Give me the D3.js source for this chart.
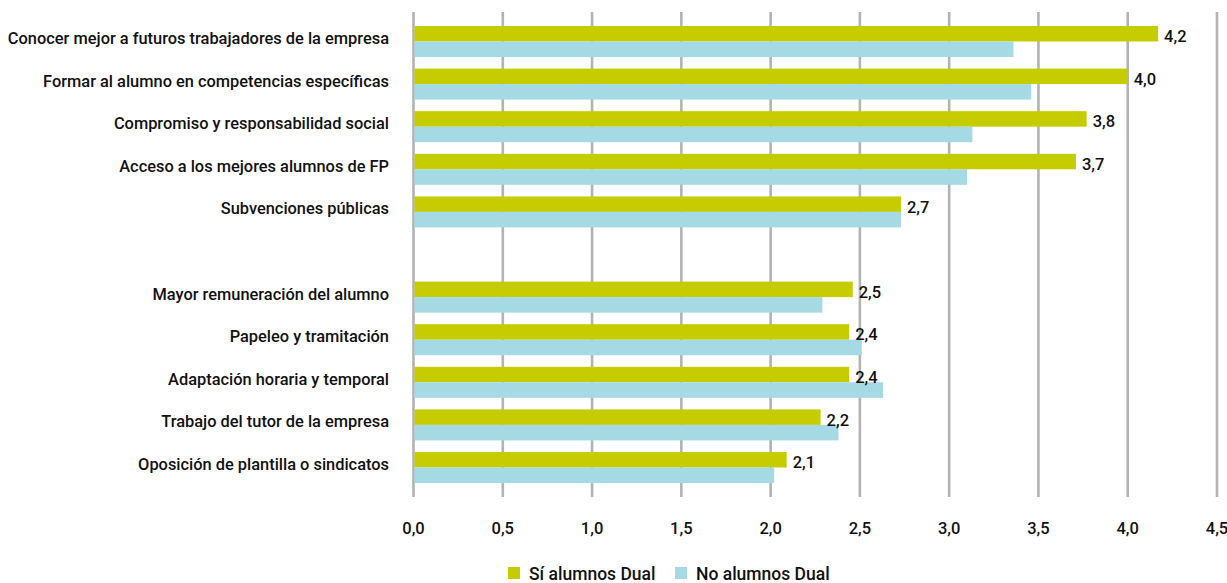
<!DOCTYPE html>
<html>
<head>
<meta charset="utf-8">
<script src="https://cdn.jsdelivr.net/npm/d3@7"></script>
<style>
  html, body { margin: 0; padding: 0; background: #fff; }
  svg { display: block; }
  text { font-family: Roboto, "Open Sans", sans-serif; fill: #111; }
</style>
</head>
<body>
<svg id="chart" width="1227" height="583"></svg>
<script>
// ---- data ----
const categories = [
  "Conocer mejor a futuros trabajadores de la empresa",
  "Formar al alumno en competencias específicas",
  "Compromiso y responsabilidad social",
  "Acceso a los mejores alumnos de FP",
  "Subvenciones públicas",
  "",
  "Mayor remuneración del alumno",
  "Papeleo y tramitación",
  "Adaptación horaria y temporal",
  "Trabajo del tutor de la empresa",
  "Oposición de plantilla o sindicatos"
];
const siValues = [4.17, 4.00, 3.77, 3.71, 2.73, null, 2.46, 2.44, 2.44, 2.28, 2.09];
const noValues = [3.36, 3.46, 3.13, 3.10, 2.73, null, 2.29, 2.51, 2.63, 2.38, 2.02];
const siLabels = ["4,2", "4,0", "3,8", "3,7", "2,7", "", "2,5", "2,4", "2,4", "2,2", "2,1"];
const xTicks = [0, 0.5, 1, 1.5, 2, 2.5, 3, 3.5, 4, 4.5];
const seriesNames = ["Sí alumnos Dual", "No alumnos Dual"];
const seriesColors = ["#c5cd00", "#a5d9e3"];

// ---- scales ----
const svg = d3.select("#chart");
const x = d3.scaleLinear().domain([0, 4.5]).range([413.5, 1217]);
const y = d3.scaleBand().domain(d3.range(categories.length))
  .range([20.2, 488.8]).paddingInner(0.272).paddingOuter(0.136);
const bw = y.bandwidth();
const fmt = d3.formatLocale({decimal: ",", thousands: ".", grouping: [3], currency: ["", "€"]}).format(".1f");

// gridlines
svg.append("g").selectAll("line").data(xTicks).join("line")
  .attr("x1", d => x(d)).attr("x2", d => x(d))
  .attr("y1", 12).attr("y2", 497)
  .attr("stroke", "#b3b3b3").attr("stroke-width", 2.6);

// tick labels
svg.append("g").selectAll("text").data(xTicks).join("text")
  .attr("x", d => x(d)).attr("y", 528)
  .attr("text-anchor", "middle").attr("dominant-baseline", "central")
  .style("font-size", "16.5px").style("font-weight", 500)
  .text(d => fmt(d));

const rows = categories.map((c, i) => ({c, i, si: siValues[i], no: noValues[i], lab: siLabels[i]}))
  .filter(d => d.c !== "");

// bars
svg.append("g").selectAll("rect").data(rows).join("rect")
  .attr("x", x(0) + 1).attr("y", d => y(d.i))
  .attr("width", d => x(d.si) - x(0) - 1).attr("height", bw / 2)
  .attr("fill", seriesColors[0]);
svg.append("g").selectAll("rect").data(rows).join("rect")
  .attr("x", x(0) + 1).attr("y", d => y(d.i) + bw / 2)
  .attr("width", d => x(d.no) - x(0) - 1).attr("height", bw / 2)
  .attr("fill", seriesColors[1]);

// value labels
svg.append("g").selectAll("text").data(rows).join("text")
  .attr("x", d => x(d.si) + 6).attr("y", d => y(d.i) + bw / 4 + 3)
  .attr("dominant-baseline", "central")
  .style("font-size", "16.5px").style("font-weight", 500)
  .text(d => d.lab);

// category labels
svg.append("g").selectAll("text").data(rows).join("text")
  .attr("x", 389).attr("y", d => y(d.i) + bw / 2 - 3)
  .attr("text-anchor", "end").attr("dominant-baseline", "central")
  .style("font-size", "16.4px").style("font-weight", 500)
  .text(d => d.c);

// legend
const legX = [508, 675];
const leg = svg.append("g").selectAll("g").data(seriesNames).join("g")
  .attr("transform", (d, i) => `translate(${legX[i]},567)`);
leg.append("rect").attr("width", 12).attr("height", 12).attr("fill", (d, i) => seriesColors[i]);
leg.append("text").attr("x", 21).attr("y", 6.5)
  .attr("dominant-baseline", "central")
  .style("font-size", "17.5px").style("font-weight", 500)
  .text(d => d);
</script>
</body>
</html>
